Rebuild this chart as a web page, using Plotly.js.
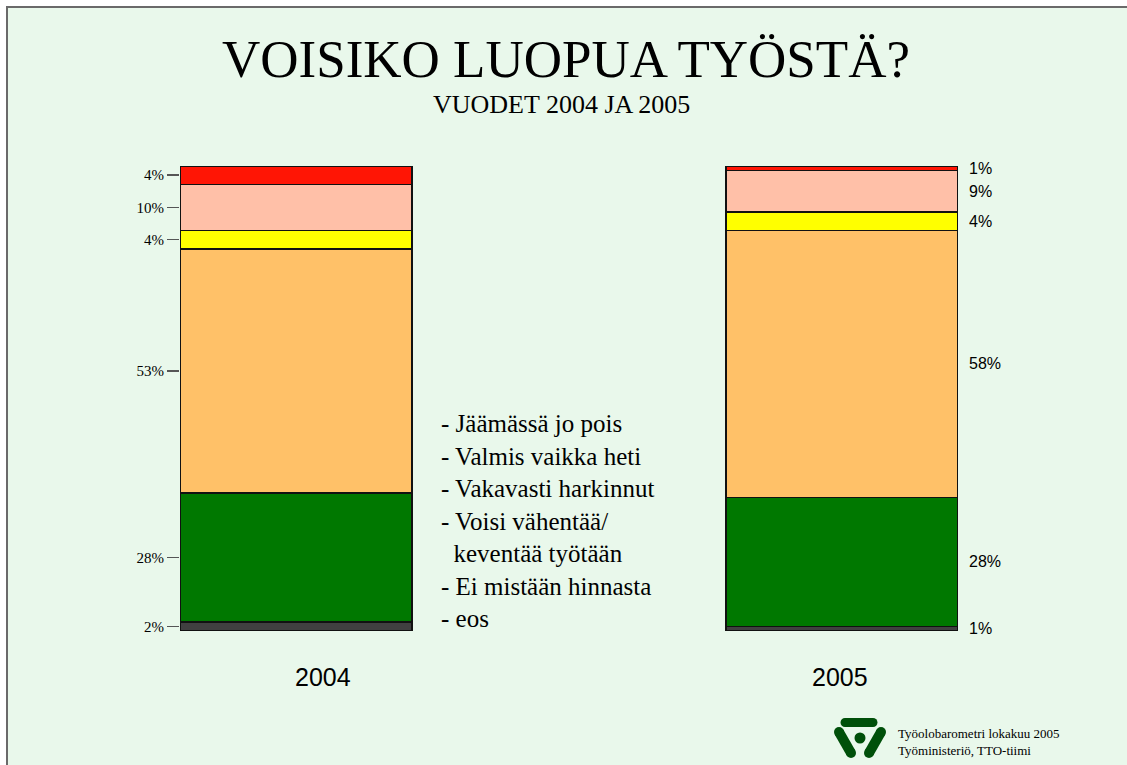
<!DOCTYPE html>
<html>
<head>
<meta charset="utf-8">
<script src="https://cdn.plot.ly/plotly-3.0.1.min.js"></script>
<style>
html,body{margin:0;padding:0;background:#fff;overflow:hidden;}
#frame{position:absolute;left:6px;top:5.5px;width:1300px;height:1000px;border:2px solid #6a6a6a;background:#E9F8EB;}
#chart{position:absolute;left:0;top:0;width:1127px;height:765px;}
</style>
</head>
<body>
<div id="frame"></div>
<div id="chart"></div>
<script>
// ---- data ----
const years = ['2004', '2005'];
const categories = ['eos', 'Ei mistään hinnasta', 'Voisi vähentää/ keventää työtään', 'Vakavasti harkinnut', 'Valmis vaikka heti', 'Jäämässä jo pois'];
const values2004 = [2, 28, 53, 4, 10, 4];
const values2005 = [1, 28, 58, 4, 9, 1];
const legendLines = ['- Jäämässä jo pois', '- Valmis vaikka heti', '- Vakavasti harkinnut', '- Voisi vähentää/', '\u00a0\u00a0keventää työtään', '- Ei mistään hinnasta', '- eos'];
const titleText = 'VOISIKO LUOPUA TYÖSTÄ?';
const subtitleText = 'VUODET 2004 JA 2005';
const sourceLines = ['Työolobarometri lokakuu 2005', 'Työministeriö, TTO-tiimi'];

// ---- styles ----
const colors = ['#404040', '#007800', '#FFC168', '#FFFF00', '#FFC0A8', '#FF1505'];
const SERIF = '"Liberation Serif", "Times New Roman", serif';
const SANS = '"Liberation Sans", Arial, sans-serif';
const W = 1127, H = 765, ML = 180, MR = 169, MT = 166, MB = 134;
const PW = W - ML - MR, PH = H - MT - MB;
const px = x => (x - ML) / PW;
const py = y => (H - MB - y) / PH;

const traces = categories.map((c, i) => ({
  type: 'bar',
  name: c,
  x: years,
  y: [values2004[i], values2005[i]],
  width: 0.425,
  marker: {color: colors[i], line: {color: '#111', width: 1.5}},
  showlegend: false,
  hoverinfo: 'none'
}));

function centers(vals) {
  let acc = 0;
  return vals.map(v => { const c = acc + v / 2; acc += v; return c; });
}
const c2004 = centers(values2004);
const c2005 = centers(values2005);
const total = Math.max(values2004.reduce((a, b) => a + b, 0), values2005.reduce((a, b) => a + b, 0));

const annotations = [];
annotations.push({xref: 'paper', yref: 'paper', x: px(566), y: py(59), text: titleText, showarrow: false,
  font: {family: SERIF, size: 53, color: '#000'}, xanchor: 'center', yanchor: 'middle'});
annotations.push({xref: 'paper', yref: 'paper', x: px(561), y: py(104), text: subtitleText, showarrow: false,
  font: {family: SERIF, size: 26, color: '#000'}, xanchor: 'center', yanchor: 'middle'});
values2005.forEach((v, i) => annotations.push({xref: 'paper', yref: 'y', x: 1, y: c2005[i], xanchor: 'left', yanchor: 'middle',
  xshift: 9, text: v + '%', showarrow: false, font: {family: SANS, size: 16, color: '#000'}}));
annotations.push({xref: 'paper', yref: 'paper', x: px(323), y: py(677), text: years[0], showarrow: false,
  font: {family: SANS, size: 25, color: '#000'}, xanchor: 'center', yanchor: 'middle'});
annotations.push({xref: 'paper', yref: 'paper', x: px(840), y: py(677), text: years[1], showarrow: false,
  font: {family: SANS, size: 25, color: '#000'}, xanchor: 'center', yanchor: 'middle'});
annotations.push({xref: 'paper', yref: 'paper', x: px(439), y: py(521), text: legendLines.join('<br>'), showarrow: false,
  align: 'left', xanchor: 'left', yanchor: 'middle', font: {family: SERIF, size: 25, color: '#000'}});
annotations.push({xref: 'paper', yref: 'paper', x: px(896), y: py(742), text: sourceLines.join('<br>'), showarrow: false,
  align: 'left', xanchor: 'left', yanchor: 'middle', font: {family: SERIF, size: 13, color: '#000'}});

// ---- shapes: logo ----
const LG = '#00500A';
const shapes = [];
function circ(cx, cy, r) {
  shapes.push({type: 'circle', xref: 'paper', yref: 'paper', x0: px(cx - r), x1: px(cx + r), y0: py(cy + r), y1: py(cy - r),
    fillcolor: LG, line: {width: 0}});
}
function stroke(x0, y0, x1, y1, w) {
  shapes.push({type: 'line', xref: 'paper', yref: 'paper', x0: px(x0), y0: py(y0), x1: px(x1), y1: py(y1), line: {color: LG, width: w}});
  circ(x0, y0, w / 2); circ(x1, y1, w / 2);
}
stroke(845, 722.5, 873, 722.5, 9);
stroke(839, 732, 851, 753, 10);
stroke(881, 732, 869, 753, 10);
circ(860, 738, 5.5);

const layout = {
  width: W, height: H, autosize: false,
  margin: {l: ML, r: MR, t: MT, b: MB, pad: 0},
  paper_bgcolor: 'rgba(0,0,0,0)',
  plot_bgcolor: 'rgba(0,0,0,0)',
  barmode: 'stack',
  bargap: 0,
  xaxis: {type: 'category', range: [-0.2125, 1.2125], showticklabels: false, showgrid: false, zeroline: false, showline: false, ticks: '', fixedrange: true},
  yaxis: {range: [0, total], showgrid: false, zeroline: false, showline: false,
    tickmode: 'array', tickvals: c2004, ticktext: values2004.map(v => v + '%'),
    ticks: 'outside', ticklen: 12, tickwidth: 1.5, tickcolor: '#555',
    tickfont: {family: SERIF, size: 15, color: '#000'}, fixedrange: true},
  annotations: annotations,
  shapes: shapes
};

Plotly.newPlot('chart', traces, layout, {displayModeBar: false, staticPlot: true});
</script>
</body>
</html>
